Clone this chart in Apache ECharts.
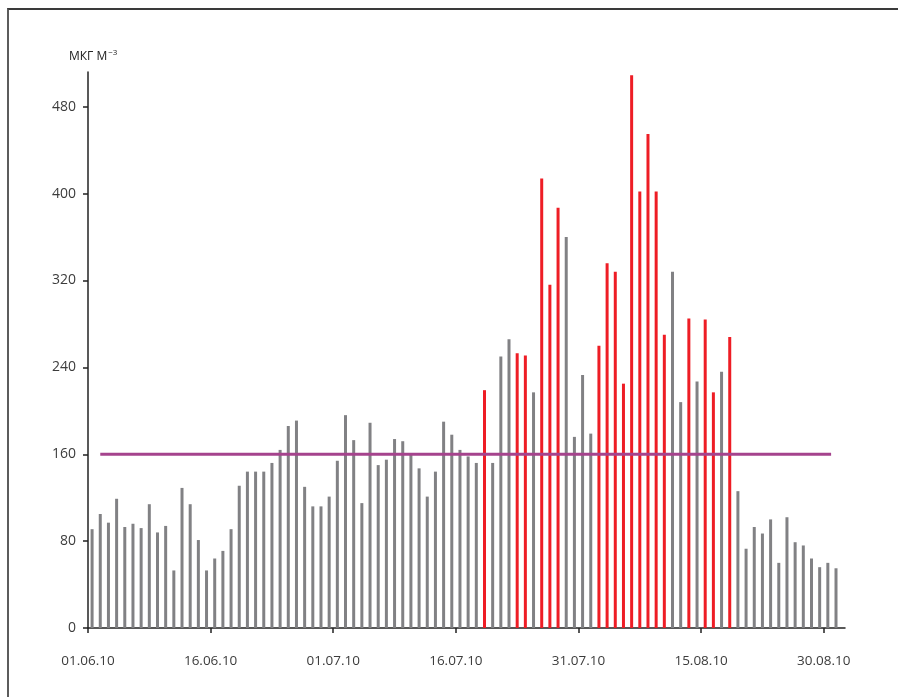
<!DOCTYPE html>
<html>
<head>
<meta charset="utf-8">
<script src="https://cdn.jsdelivr.net/npm/echarts@6/dist/echarts.min.js"></script>
<style>
  html, body { margin: 0; padding: 0; background: #fff; }
  #frame {
    position: absolute; left: 7px; top: 8px; width: 900px; height: 700px;
    border-left: 2px solid #5c5c5c; border-top: 2px solid #3a3a3a;
  }
  #chart { position: absolute; left: 0; top: 0; width: 898px; height: 697px; }
</style>
</head>
<body>
<div id="frame"></div>
<div id="chart"></div>
<script>
// daily concentrations 01.06.10 .. 31.08.10
const values = [
  91, 105, 97, 119, 93, 96, 92, 114, 88, 94,
  53, 129, 114, 81, 53, 64, 71, 91, 131, 144,
  144, 144, 152, 164, 186, 191, 130, 112, 112, 121,
  154, 196, 173, 115, 189, 150, 155, 174, 172, 160,
  147, 121, 144, 190, 178, 164, 158, 152, 219, 152,
  250, 266, 253, 251, 217, 414, 316, 387, 360, 176,
  233, 179, 260, 336, 328, 225, 509, 402, 455, 402,
  270, 328, 208, 285, 227, 284, 217, 236, 268, 126,
  73, 93, 87, 100, 60, 102, 79, 76, 64, 56,
  60, 55
];
// days exceeding the limit shown in red
const redDays = [48, 52, 53, 55, 56, 57, 62, 63, 64, 65, 66, 67, 68, 69, 70, 73, 75, 76, 78];
const limitValue = 160;
const limitSpan = [1.5, 90.9];
const tickDays = [0, 15, 30, 45, 60, 75, 90];
const tickLabels = ['01.06.10', '16.06.10', '01.07.10', '16.07.10', '31.07.10', '15.08.10', '30.08.10'];
const yTicks = [0, 80, 160, 240, 320, 400, 480];

const RED = '#ee1d25';
const GRAY = '#818184';

var chart = echarts.init(document.getElementById('chart'));

var barData = values.map(function (v, i) {
  return {
    value: [i + 0.5, v],
    itemStyle: { color: redDays.indexOf(i) >= 0 ? RED : GRAY }
  };
});

var font = "'Open Sans', 'Noto Sans', sans-serif";

var option = {
  animation: false,
  grid: { left: 88, right: 53, top: 72, bottom: 69, containLabel: false },
  xAxis: {
    type: 'value',
    min: 0,
    max: 92.6,
    interval: 15,
    splitLine: { show: false },
    axisLine: { show: true, lineStyle: { color: '#222', width: 1.5 } },
    axisTick: { show: true, length: 5, customValues: tickDays, lineStyle: { color: '#222', width: 1.5 } },
    axisLabel: {
      customValues: tickDays,
      margin: 26,
      color: '#3c3c3c',
      fontSize: 13.5,
      fontFamily: font,
      formatter: function (v) { return tickLabels[tickDays.indexOf(v)] || ''; }
    }
  },
  yAxis: {
    type: 'value',
    min: 0,
    max: 512,
    interval: 80,
    splitLine: { show: false },
    axisLine: { show: true, lineStyle: { color: '#222', width: 1.5 } },
    axisTick: { show: true, length: 5, customValues: yTicks, lineStyle: { color: '#222', width: 1.5 } },
    axisLabel: {
      customValues: yTicks,
      margin: 12,
      color: '#3c3c3c',
      fontSize: 14,
      fontFamily: font
    },
    name: '{a|МКГ М}{s|−3}',
    nameLocation: 'end',
    nameGap: 7,
    nameTextStyle: {
      align: 'left',
      padding: [0, 0, 0, -19],
      rich: {
        a: { fontSize: 12, color: '#222', fontFamily: font },
        s: { fontSize: 8, color: '#222', fontFamily: font, verticalAlign: 'top', padding: [0, 0, 8, 1] }
      }
    }
  },
  series: [
    {
      type: 'bar',
      barWidth: 3,
      data: barData,
      z: 2
    },
    {
      type: 'line',
      symbol: 'none',
      data: [[limitSpan[0], limitValue], [limitSpan[1], limitValue]],
      lineStyle: { color: '#a5438d', width: 3 },
      z: 3
    }
  ]
};

chart.setOption(option);
</script>
</body>
</html>
